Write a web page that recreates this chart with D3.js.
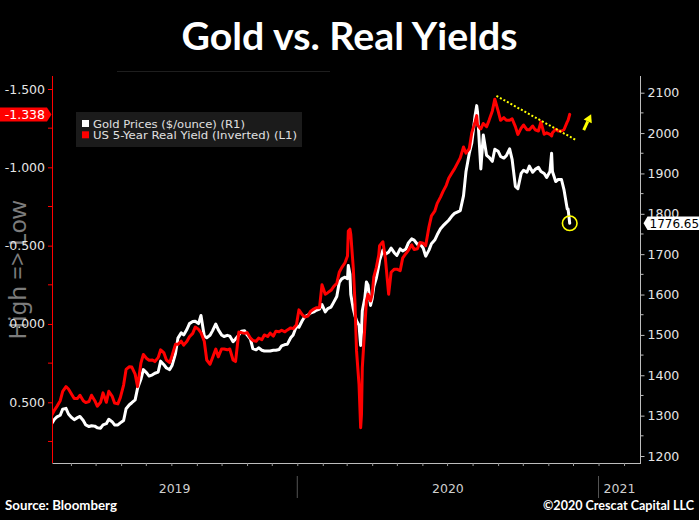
<!DOCTYPE html>
<html><head><meta charset="utf-8">
<script src="https://cdn.jsdelivr.net/npm/d3@7"></script>
<style>html,body{margin:0;padding:0;background:#000;} svg{display:block;}</style>
</head><body>
<svg id="chart" width="699" height="520"></svg>
<script>
// ---------------- DATA ----------------
const dates = [
"2019-03-08","2019-03-12","2019-03-15","2019-03-19","2019-03-22","2019-03-26","2019-03-29","2019-04-02",
"2019-04-05","2019-04-09","2019-04-12","2019-04-16","2019-04-19","2019-04-23","2019-04-26","2019-04-30",
"2019-05-03","2019-05-07","2019-05-10","2019-05-14","2019-05-17","2019-05-21","2019-05-24","2019-05-28",
"2019-05-31","2019-06-04","2019-06-07","2019-06-11","2019-06-14","2019-06-18","2019-06-21","2019-06-25",
"2019-06-28","2019-07-02","2019-07-05","2019-07-09","2019-07-12","2019-07-16","2019-07-19","2019-07-23",
"2019-07-26","2019-07-30","2019-08-02","2019-08-06","2019-08-09","2019-08-13","2019-08-16","2019-08-20",
"2019-08-23","2019-08-27","2019-08-30","2019-09-03","2019-09-06","2019-09-10","2019-09-13","2019-09-17",
"2019-09-20","2019-09-24","2019-09-27","2019-10-01","2019-10-04","2019-10-08","2019-10-11","2019-10-15",
"2019-10-18","2019-10-22","2019-10-25","2019-10-29","2019-11-01","2019-11-05","2019-11-08","2019-11-12",
"2019-11-15","2019-11-19","2019-11-22","2019-11-26","2019-11-29","2019-12-03","2019-12-06","2019-12-10",
"2019-12-13","2019-12-17","2019-12-20","2019-12-24","2019-12-27","2019-12-31","2020-01-03","2020-01-07",
"2020-01-10","2020-01-14","2020-01-17","2020-01-21","2020-01-24","2020-01-28","2020-01-31","2020-02-04",
"2020-02-07","2020-02-11","2020-02-14","2020-02-18","2020-02-21","2020-02-24","2020-02-28","2020-03-02",
"2020-03-03","2020-03-05","2020-03-06","2020-03-09","2020-03-11","2020-03-13","2020-03-16","2020-03-18",
"2020-03-19","2020-03-20","2020-03-23","2020-03-25","2020-03-27","2020-03-30","2020-04-01","2020-04-03",
"2020-04-06","2020-04-09","2020-04-10","2020-04-14","2020-04-17","2020-04-21","2020-04-24","2020-04-28",
"2020-05-01","2020-05-05","2020-05-08","2020-05-12","2020-05-15","2020-05-19","2020-05-22","2020-05-26",
"2020-05-29","2020-06-02","2020-06-05","2020-06-09","2020-06-12","2020-06-16","2020-06-19","2020-06-23",
"2020-06-26","2020-06-30","2020-07-03","2020-07-07","2020-07-10","2020-07-14","2020-07-17","2020-07-21",
"2020-07-24","2020-07-28","2020-07-31","2020-08-04","2020-08-06","2020-08-07","2020-08-11","2020-08-14",
"2020-08-18","2020-08-21","2020-08-25","2020-08-28","2020-09-01","2020-09-04","2020-09-08","2020-09-11",
"2020-09-15","2020-09-18","2020-09-22","2020-09-25","2020-09-29","2020-10-02","2020-10-06","2020-10-09",
"2020-10-13","2020-10-16","2020-10-20","2020-10-23","2020-10-27","2020-10-30","2020-11-03","2020-11-05",
"2020-11-06","2020-11-10","2020-11-13","2020-11-17","2020-11-20","2020-11-24","2020-11-25","2020-11-27"
];
const goldPrices = [
1278,1291,1297,1301,1316,1318,1304,1295,
1290,1295,1298,1288,1277,1273,1275,1274,
1270,1269,1277,1280,1291,1285,1277,1277,
1282,1288,1317,1327,1332,1339,1368,1390,
1414,1406,1398,1401,1405,1408,1435,1426,
1418,1414,1425,1454,1492,1505,1500,1514,
1528,1533,1534,1528,1548,1497,1493,1499,
1510,1527,1513,1500,1496,1499,1497,1483,
1490,1500,1509,1510,1500,1490,1466,1463,
1468,1462,1460,1460,1460,1462,1462,1464,
1473,1476,1477,1493,1500,1522,1519,1535,
1545,1549,1554,1557,1561,1564,1575,1557,
1565,1569,1580,1595,1630,1639,1643,1639,
1672,1650,1600,1565,1548,1535,1524,1474,
1507,1560,1590,1631,1623,1573,1590,1620,
1640,1672,1685,1710,1700,1705,1715,1703,
1697,1713,1708,1713,1728,1738,1735,1724,
1726,1715,1695,1710,1726,1735,1748,1763,
1770,1778,1784,1795,1801,1805,1808,1845,
1905,1950,1975,2043,2068,2052,1911,1995,
1945,1940,1930,1960,1955,1942,1938,1944,
1961,1935,1868,1862,1900,1908,1903,1918,
1903,1910,1915,1905,1900,1890,1905,1950,
1905,1880,1885,1885,1860,1812,1812,1776.65
];
const realYield5y = [
0.59,0.55,0.526,0.49,0.43,0.40,0.415,0.45,
0.476,0.475,0.455,0.49,0.502,0.495,0.455,0.49,
0.525,0.50,0.44,0.50,0.43,0.46,0.505,0.51,
0.47,0.39,0.29,0.273,0.275,0.32,0.40,0.25,
0.195,0.22,0.232,0.23,0.24,0.215,0.165,0.185,
0.23,0.247,0.20,0.13,0.13,0.11,0.135,0.11,
0.082,0.06,0.02,0.034,0.055,0.11,0.23,0.257,
0.215,0.16,0.21,0.16,0.16,0.165,0.16,0.23,
0.24,0.052,0.055,0.06,0.055,0.09,0.105,0.11,
0.09,0.10,0.07,0.08,0.058,0.077,0.046,0.05,
0.04,0.05,0.038,0.025,0.03,0.005,-0.09,-0.06,
-0.045,-0.05,-0.08,-0.095,-0.104,-0.104,-0.25,-0.19,
-0.20,-0.215,-0.237,-0.26,-0.33,-0.36,-0.391,-0.434,
-0.594,-0.605,-0.573,-0.36,-0.147,0.172,0.385,0.662,
0.577,0.279,0.024,-0.147,-0.19,-0.147,-0.19,-0.30,
-0.36,-0.44,-0.50,-0.525,-0.42,-0.19,-0.33,-0.35,
-0.35,-0.34,-0.42,-0.45,-0.47,-0.505,-0.475,-0.48,
-0.52,-0.515,-0.50,-0.62,-0.69,-0.72,-0.77,-0.81,
-0.845,-0.885,-0.93,-0.965,-0.99,-1.03,-1.06,-1.13,
-1.09,-1.12,-1.22,-1.29,-1.33,-1.27,-1.245,-1.28,
-1.26,-1.30,-1.36,-1.435,-1.36,-1.30,-1.317,-1.30,
-1.30,-1.31,-1.26,-1.21,-1.25,-1.27,-1.24,-1.24,
-1.264,-1.24,-1.232,-1.29,-1.211,-1.22,-1.21,-1.20,
-1.22,-1.243,-1.232,-1.232,-1.24,-1.29,-1.30,-1.338
];
const leftTicks = [-1.5,-1.0,-0.5,0.0,0.5];
const leftMinorTicks = [-1.25,-0.75,-0.25,0.25,0.75];
const rightTicks = [1200,1300,1400,1500,1600,1700,1800,1900,2000,2100];
const rightMinorTicks = [1250,1350,1450,1550,1650,1750,1850,1950,2050];
const yearLabels = ["2019","2020","2021"];
const yearStarts = ["2019-01-01","2020-01-01","2021-01-01","2022-01-01"];
const seriesNames = ["Gold Prices ($/ounce) (R1)","US 5-Year Real Yield (Inverted) (L1)"];
const trendLine = [{date:"2020-08-30",value:-1.456},{date:"2020-12-05",value:-1.173}];
const arrowPoints = [{date:"2020-12-14",value:-1.238},{date:"2020-12-23",value:-1.339}];

// ---------------- CHART ----------------
const parse = d3.utcParse("%Y-%m-%d");
const loc = d3.formatLocale({decimal:".",thousands:",",grouping:[3],currency:["$",""],minus:"-"});
const fmt3 = loc.format(".3f"), fmt2 = loc.format(".2f");

const svg = d3.select("#chart");
const W = 699, H = 520;
const L = 52, R = 640.5, T = 76, B = 463;
svg.append("rect").attr("width",W).attr("height",H).attr("fill","#000");

const x = d3.scaleUtc().domain([parse("2019-03-09"), parse("2021-02-21")]).range([L, R]);
const yL = d3.scaleLinear().domain([-1.5, 0.5]).range([89, 402.3]);
const yR = d3.scaleLinear().domain([1200, 2100]).range([456, 92.7]);

const data = dates.map((d,i)=>({date:parse(d), gold:goldPrices[i], yld:realYield5y[i]}));

// title
svg.append("text").attr("x",349.5).attr("y",50).attr("text-anchor","middle")
  .attr("font-family","Lato, 'Open Sans', sans-serif").attr("font-weight","bold")
  .attr("font-size",38).attr("fill","#fff").attr("textLength",336).attr("lengthAdjust","spacingAndGlyphs")
  .text("Gold vs. Real Yields");
svg.append("line").attr("x1",117).attr("x2",330).attr("y1",71.5).attr("y2",71.5)
  .attr("stroke","#1e1e1e").attr("stroke-width",1);

// y axis title
svg.append("text").attr("transform","translate(26,270) rotate(-90)").attr("text-anchor","middle")
  .attr("font-family","'Noto Sans', sans-serif").attr("font-size",24).attr("fill","#7c7c7c")
  .text("High => Low");

// clip
svg.append("clipPath").attr("id","plot").append("rect")
  .attr("x",L).attr("y",T).attr("width",R-L).attr("height",B-T);

// lines
const goldLine = d3.line().x(d=>x(d.date)).y(d=>yR(d.gold));
const yldLine = d3.line().x(d=>x(d.date)).y(d=>yL(d.yld));
const g = svg.append("g").attr("clip-path","url(#plot)");
g.append("path").datum(data).attr("d",goldLine).attr("fill","none").attr("stroke","#ffffff")
  .attr("stroke-width",3).attr("stroke-linejoin","round").attr("stroke-linecap","round");
g.append("path").datum(data).attr("d",yldLine).attr("fill","none").attr("stroke","#ff0000")
  .attr("stroke-width",3).attr("stroke-linejoin","round").attr("stroke-linecap","round");

// left axis
const axL = svg.append("g").attr("transform",`translate(${L},0)`)
  .call(d3.axisLeft(yL).tickValues(leftTicks).tickSize(4).tickSizeOuter(0).tickPadding(3).tickFormat(fmt3));
axL.select(".domain").remove();
axL.selectAll(".tick line").attr("stroke","#ff0000");
axL.selectAll(".tick text").attr("fill","#e6e6e6").attr("font-family","'DejaVu Sans', sans-serif").attr("font-size",12.5);
svg.append("g").selectAll("line").data(leftMinorTicks).join("line")
  .attr("x1",L-4).attr("x2",L).attr("y1",d=>yL(d)).attr("y2",d=>yL(d)).attr("stroke","#ff0000");
svg.append("line").attr("x1",L+0.5).attr("x2",L+0.5).attr("y1",T).attr("y2",B).attr("stroke","#ff0000").attr("stroke-width",1);

// right axis
const axR = svg.append("g").attr("transform",`translate(${R},0)`)
  .call(d3.axisRight(yR).tickValues(rightTicks).tickSize(4).tickSizeOuter(0).tickPadding(3).tickFormat(d3.format("d")));
axR.select(".domain").remove();
axR.selectAll(".tick line").attr("stroke","#bdbdbd");
axR.selectAll(".tick text").attr("fill","#e6e6e6").attr("font-family","'DejaVu Sans', sans-serif").attr("font-size",12.5);
svg.append("g").selectAll("line").data(rightMinorTicks).join("line")
  .attr("x1",R).attr("x2",R+3).attr("y1",d=>yR(d)).attr("y2",d=>yR(d)).attr("stroke","#bdbdbd");
svg.append("line").attr("x1",R).attr("x2",R).attr("y1",T).attr("y2",B).attr("stroke","#bdbdbd").attr("stroke-width",1);

// bottom axis
const axB = svg.append("g").attr("transform",`translate(0,${B})`)
  .call(d3.axisBottom(x).ticks(d3.utcMonth.every(1)).tickSize(3).tickSizeOuter(0).tickFormat(""));
axB.select(".domain").attr("stroke","#bdbdbd");
axB.selectAll(".tick line").attr("stroke","#9a9a9a");

// year separators and labels
const ys = yearStarts.map(parse);
const [d0,d1] = x.domain();
yearLabels.forEach((lab,i)=>{
  const a = Math.max(x(ys[i]), L), b = Math.min(x(ys[i+1]), R);
  svg.append("text").attr("x",(a+b)/2).attr("y",493).attr("text-anchor","middle")
    .attr("font-family","'DejaVu Sans', sans-serif").attr("font-size",12.5).attr("fill","#cfcfcf").text(lab);
});
ys.filter(d=>d>d0 && d<d1).forEach(d=>{
  svg.append("line").attr("x1",x(d)).attr("x2",x(d)).attr("y1",476).attr("y2",498)
    .attr("stroke","#555").attr("stroke-width",1);
});

// legend
const lg = svg.append("g");
lg.append("rect").attr("x",76).attr("y",112).attr("width",226).attr("height",35).attr("fill","#1b1b1b");
const legColors = ["#ffffff","#ff0000"];
const legLens = [152,204];
seriesNames.forEach((n,i)=>{
  lg.append("rect").attr("x",82).attr("y",120+i*11.3).attr("width",7).attr("height",7).attr("fill",legColors[i]);
  lg.append("text").attr("x",93).attr("y",127.5+i*11.3).attr("font-family","'DejaVu Sans', sans-serif")
    .attr("font-size",10.5).attr("fill","#e0e0e0").attr("textLength",legLens[i]).attr("lengthAdjust","spacingAndGlyphs").text(n);
});

// last value labels
const last = data[data.length-1];
const ly = yL(last.yld);
svg.append("path").attr("d",`M0,${ly-7}H47L51.5,${ly}L47,${ly+7}H0Z`).attr("fill","#ff0000");
svg.append("text").attr("x",45).attr("y",ly).attr("dy","0.36em").attr("text-anchor","end")
  .attr("font-family","'DejaVu Sans', sans-serif").attr("font-size",12.5).attr("fill","#fff").text(fmt3(last.yld));
const gy = yR(last.gold);
svg.append("path").attr("d",`M${R+3},${gy}L${R+7},${gy-6.7}H699V${gy+6.7}H${R+7}Z`).attr("fill","#ffffff");
svg.append("text").attr("x",R+9).attr("y",gy).attr("dy","0.36em")
  .attr("font-family","'DejaVu Sans', sans-serif").attr("font-size",12).attr("fill","#000").text(fmt2(last.gold));

// annotations
svg.append("line")
  .attr("x1",x(parse(trendLine[0].date))).attr("y1",yL(trendLine[0].value))
  .attr("x2",x(parse(trendLine[1].date))).attr("y2",yL(trendLine[1].value))
  .attr("stroke","#ffff00").attr("stroke-width",2).attr("stroke-dasharray","2,2");
svg.append("circle").attr("cx",x(last.date)).attr("cy",gy).attr("r",7.3)
  .attr("fill","none").attr("stroke","#ffff00").attr("stroke-width",1.6);
{
  const x1 = x(parse(arrowPoints[0].date)), y1 = yL(arrowPoints[0].value);
  const x2 = x(parse(arrowPoints[1].date)), y2 = yL(arrowPoints[1].value);
  const dx = x2-x1, dy = y2-y1, len = Math.hypot(dx,dy), ux = dx/len, uy = dy/len, px = -uy, py = ux;
  const hl = 8, hw = 4.5;
  const bx = x2-ux*hl, by = y2-uy*hl;
  svg.append("line").attr("x1",x1).attr("y1",y1).attr("x2",bx).attr("y2",by)
    .attr("stroke","#ffff00").attr("stroke-width",3);
  svg.append("path").attr("d",`M${x2},${y2}L${bx+px*hw},${by+py*hw}L${bx-px*hw},${by-py*hw}Z`).attr("fill","#ffff00");
}

// footer
svg.append("text").attr("x",5).attr("y",510).attr("font-family","Lato, sans-serif").attr("font-weight","bold")
  .attr("font-size",13).attr("fill","#fff").attr("textLength",112).attr("lengthAdjust","spacingAndGlyphs").text("Source: Bloomberg");
svg.append("text").attr("x",694).attr("y",510).attr("text-anchor","end").attr("font-family","Lato, sans-serif").attr("font-weight","bold")
  .attr("font-size",13).attr("fill","#fff").attr("textLength",151).attr("lengthAdjust","spacingAndGlyphs").text("©2020 Crescat Capital LLC");
</script>
</body></html>
